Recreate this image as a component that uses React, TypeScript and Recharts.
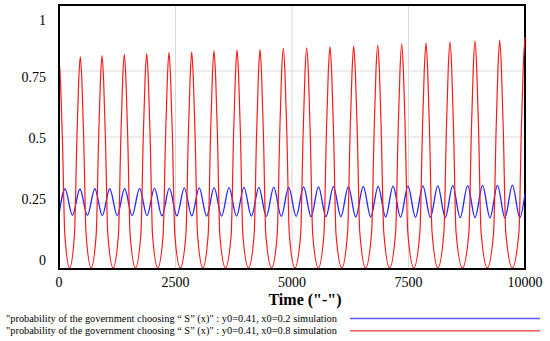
import React from 'react';
import { LineChart, Line, XAxis, YAxis, CartesianGrid, ReferenceArea } from 'recharts';

// x axis ticks and y axis ticks
const timeTicks = [0, 2500, 5000, 7500, 10000];
const probTicks = [0, 0.25, 0.5, 0.75, 1];
const probLabels = ['0', '0.25', '0.5', '0.75', '1'];

const legendLabels = [
  '"probability of the government choosing \u201C S\u201D (x)" : y0=0.41, x0=0.2 simulation',
  '"probability of the government choosing \u201C S\u201D (x)" : y0=0.41, x0=0.8 simulation',
];

// x0=0.2 run (blue): [time, value]
const blueSeries: [number, number][] = [
  [0, 0.208],
  [129, 0.303], [289, 0.203], [449, 0.303], [609, 0.203], [769, 0.304], [929, 0.202],
  [1089, 0.304], [1249, 0.202], [1409, 0.305], [1569, 0.202], [1729, 0.305], [1889, 0.202],
  [2049, 0.306], [2209, 0.201], [2369, 0.306], [2529, 0.201], [2689, 0.307], [2849, 0.201],
  [3009, 0.307], [3169, 0.2], [3329, 0.308], [3489, 0.2], [3649, 0.308], [3809, 0.2],
  [3969, 0.309], [4129, 0.2], [4289, 0.309], [4449, 0.199], [4609, 0.31], [4769, 0.199],
  [4929, 0.31], [5089, 0.199], [5249, 0.311], [5409, 0.198], [5569, 0.311], [5729, 0.198],
  [5889, 0.312], [6049, 0.198], [6209, 0.312], [6369, 0.197], [6529, 0.313], [6689, 0.197],
  [6849, 0.313], [7009, 0.197], [7169, 0.314], [7329, 0.196], [7489, 0.314], [7649, 0.196],
  [7809, 0.315], [7969, 0.196], [8129, 0.315], [8289, 0.195], [8449, 0.316], [8609, 0.195],
  [8769, 0.316], [8929, 0.195], [9089, 0.317], [9249, 0.194], [9409, 0.317], [9569, 0.194],
  [9729, 0.318], [9889, 0.194], [10000, 0.285],
];

// x0=0.8 run (red): [time, value]
const redSeries: [number, number][] = [
  [0, 0.8], [35, 0.7], [75, 0.48], [125, 0.13], [228, 0.004],
  [332, 0.13], [382, 0.48], [422, 0.71], [457, 0.804], [492, 0.71], [532, 0.48], [582, 0.13], [690, 0.004],
  [798, 0.13], [848, 0.48], [888, 0.71], [923, 0.808], [958, 0.71], [998, 0.48], [1048, 0.13], [1162, 0.004],
  [1276, 0.13], [1326, 0.49], [1366, 0.72], [1401, 0.813], [1436, 0.72], [1476, 0.49], [1526, 0.13], [1641, 0.004],
  [1757, 0.13], [1807, 0.49], [1847, 0.72], [1882, 0.816], [1917, 0.72], [1957, 0.49], [2007, 0.13], [2121, 0.004],
  [2235, 0.13], [2285, 0.49], [2325, 0.72], [2360, 0.821], [2395, 0.72], [2435, 0.49], [2485, 0.13], [2604, 0.004],
  [2723, 0.13], [2773, 0.49], [2813, 0.72], [2848, 0.823], [2883, 0.72], [2923, 0.49], [2973, 0.13], [3087, 0.004],
  [3201, 0.13], [3251, 0.5], [3291, 0.73], [3326, 0.827], [3361, 0.73], [3401, 0.5], [3451, 0.13], [3573, 0.004],
  [3695, 0.13], [3745, 0.5], [3785, 0.73], [3820, 0.83], [3855, 0.73], [3895, 0.5], [3945, 0.13], [4066, 0.004],
  [4188, 0.13], [4238, 0.5], [4278, 0.73], [4313, 0.832], [4348, 0.73], [4388, 0.5], [4438, 0.13], [4563, 0.004],
  [4683, 0.13], [4735, 0.5], [4776, 0.74], [4813, 0.836], [4850, 0.74], [4891, 0.5], [4943, 0.13], [5064, 0.004],
  [5185, 0.13], [5237, 0.5], [5278, 0.74], [5315, 0.838], [5352, 0.74], [5393, 0.5], [5445, 0.13], [5565, 0.004],
  [5685, 0.13], [5737, 0.51], [5778, 0.74], [5815, 0.842], [5852, 0.74], [5893, 0.51], [5945, 0.13], [6070, 0.004],
  [6194, 0.14], [6246, 0.51], [6287, 0.74], [6324, 0.845], [6361, 0.74], [6402, 0.51], [6454, 0.14], [6581, 0.004],
  [6709, 0.14], [6761, 0.51], [6802, 0.75], [6839, 0.848], [6876, 0.75], [6917, 0.51], [6969, 0.14], [7096, 0.004],
  [7224, 0.14], [7276, 0.51], [7317, 0.75], [7354, 0.852], [7391, 0.75], [7432, 0.51], [7484, 0.14], [7614, 0.004],
  [7745, 0.14], [7797, 0.51], [7838, 0.75], [7875, 0.857], [7912, 0.75], [7953, 0.51], [8005, 0.14], [8132, 0.004],
  [8260, 0.14], [8312, 0.52], [8353, 0.76], [8390, 0.86], [8427, 0.76], [8468, 0.52], [8520, 0.14], [8658, 0.004],
  [8797, 0.14], [8849, 0.52], [8890, 0.76], [8927, 0.864], [8964, 0.76], [9005, 0.52], [9057, 0.14], [9192, 0.004],
  [9327, 0.14], [9379, 0.52], [9420, 0.76], [9457, 0.867], [9494, 0.76], [9535, 0.52], [9587, 0.14], [9728, 0.004],
  [9870, 0.14], [9922, 0.53], [9963, 0.77], [10000, 0.878],
];

const SERIF = 'Liberation Serif, Times New Roman, DejaVu Serif, serif';

const blueData = blueSeries.map(([t, v]) => ({ t, v }));
const redData = redSeries.map(([t, v]) => ({ t, v }));

// Vensim spreads the y labels a bit inward from the frame
const YTick = (props: any) => {
  const { y, payload } = props;
  const v = payload.value as number;
  const idx = probTicks.indexOf(v);
  return (
    <text x={46} y={y + (-9 + 20 * v)} dy={5} textAnchor="end" style={{ fontFamily: SERIF, fontSize: 14 }} fill="#000">
      {probLabels[idx]}
    </text>
  );
};

const XTick = (props: any) => {
  const { x, y, payload } = props;
  return (
    <text x={x} y={y + 10} textAnchor="middle" style={{ fontFamily: SERIF, fontSize: 14 }} fill="#000">
      {payload.value}
    </text>
  );
};

export default function App() {
  return (
    <div style={{ position: 'absolute', left: 0, top: 0, width: 550, height: 341, background: '#fff', fontFamily: SERIF }}>
      <LineChart width={550} height={341} margin={{ top: 5, right: 25, bottom: 0, left: 0 }} style={{ fontFamily: SERIF }}>
        <CartesianGrid stroke="#d9d9d9" strokeWidth={1} />
        <XAxis
          type="number"
          dataKey="t"
          domain={[0, 10000]}
          ticks={timeTicks}
          height={72}
          tickLine={false}
          axisLine={{ stroke: '#000', strokeWidth: 2 }}
          tick={<XTick />}
          label={{ value: 'Time ("-")', position: 'insideBottom', offset: 36, dx: 13, style: { fontFamily: SERIF, fontSize: 16, fontWeight: 'bold' }, fill: '#000' }}
        />
        <YAxis
          type="number"
          domain={[0, 1]}
          ticks={probTicks}
          width={59}
          tickLine={false}
          axisLine={{ stroke: '#000', strokeWidth: 2 }}
          tick={<YTick />}
        />
        <Line data={blueData} dataKey="v" type="monotone" stroke="#2525ff" strokeWidth={1.3} dot={false} isAnimationActive={false} />
        <Line data={redData} dataKey="v" type="monotone" stroke="#ff1a1a" strokeWidth={1.2} dot={false} isAnimationActive={false} />
        <ReferenceArea x1={0} x2={10000} y1={0} y2={1} fill="none" stroke="#000" strokeWidth={2} ifOverflow="visible" />
      </LineChart>
      <svg width={550} height={341} style={{ position: 'absolute', left: 0, top: 0, pointerEvents: 'none' }}>
        <text x={6} y={321.5} style={{ fontFamily: SERIF, fontSize: 10.5 }} textLength={331} lengthAdjust="spacingAndGlyphs" fill="#000">
          {legendLabels[0]}
        </text>
        <line x1={350} x2={540} y1={318.5} y2={318.5} stroke="#5a5aff" strokeWidth={1.6} />
        <text x={6} y={334} style={{ fontFamily: SERIF, fontSize: 10.5 }} textLength={331} lengthAdjust="spacingAndGlyphs" fill="#000">
          {legendLabels[1]}
        </text>
        <line x1={350} x2={540} y1={330.7} y2={330.7} stroke="#ff5a5a" strokeWidth={1.6} />
      </svg>
    </div>
  );
}
